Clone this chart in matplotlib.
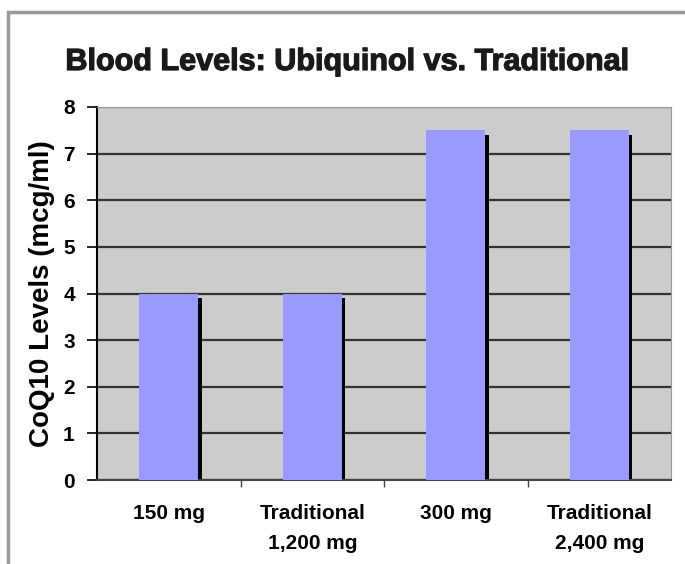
import numpy as np
import matplotlib.pyplot as plt
import matplotlib.patheffects as pe
from matplotlib.patches import Rectangle

categories = ['150 mg', 'Traditional\n1,200 mg', '300 mg', 'Traditional\n2,400 mg']
levels = [4.0, 4.0, 7.5, 7.5]
yticks = [0, 1, 2, 3, 4, 5, 6, 7, 8]

fnt = ['Liberation Sans', 'DejaVu Sans']

fig = plt.figure(figsize=(6.85, 5.64), dpi=100)
ax = fig.add_axes([97/685, 1-480/564, (671-97)/685, (480-107)/564])

x = np.arange(len(categories))
w = 0.41
# black drop shadow on the right of each bar
ax.bar(x + 0.026, np.array(levels) - 0.09, width=w, color='black', zorder=2)
ax.bar(x, levels, width=w, color='#9999FF', zorder=3)

ax.set_xlim(-0.5, 3.5)
ax.set_ylim(0, 8)
ax.set_facecolor('#CCCCCC')
ax.set_yticks(yticks)
ax.set_yticklabels([str(t) for t in yticks], fontsize=15, fontweight='bold', family=fnt)
ax.yaxis.grid(True, color='#333333', linewidth=1.6, zorder=1)
ax.set_axisbelow(True)
ax.tick_params(axis='y', length=7, width=1.2, pad=9, color='black')

ax.set_xticks(x)
ax.set_xticklabels(categories, fontsize=15, fontweight='bold', linespacing=1.75,
                   family=fnt, va='top')
ax.tick_params(axis='x', length=0, pad=17)
ax.set_xticks([0.5, 1.5, 2.5], minor=True)
ax.tick_params(axis='x', which='minor', length=5, width=1, color='#444444')

ax.spines['left'].set_color('black')
ax.spines['left'].set_linewidth(1.5)
ax.spines['bottom'].set_color('#444444')
ax.spines['bottom'].set_linewidth(1.5)
ax.spines['top'].set_color('#999999')
ax.spines['right'].set_color('#999999')

ax.set_ylabel('CoQ10 Levels (mcg/ml)', fontsize=20, fontweight='bold',
              family=fnt, labelpad=6)

fig.text(347/685, 1-62/564, 'Blood Levels: Ubiquinol vs. Traditional',
         ha='center', va='center', fontsize=22, fontweight='heavy', family=fnt,
         color='#1a1a1a',
         path_effects=[pe.withStroke(linewidth=0.9, foreground='#1a1a1a')])

# outer chart frame, cut off at the right and bottom
fig.patches.append(Rectangle((8/685, -0.05), 1.1, 1-12/564+0.05,
                             transform=fig.transFigure, fill=False,
                             edgecolor='#999999', linewidth=2.5))

fig.savefig('out.png', dpi=100)
